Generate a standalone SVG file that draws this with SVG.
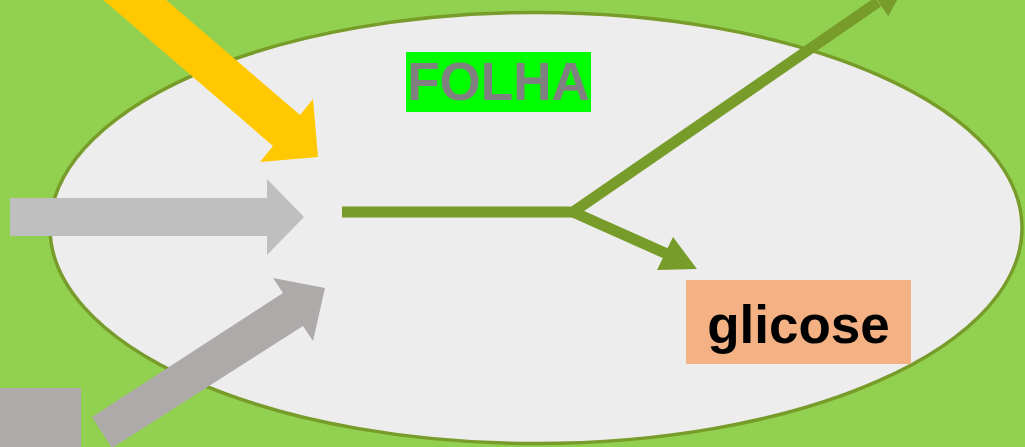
<svg xmlns="http://www.w3.org/2000/svg" width="1025" height="447" viewBox="0 0 1025 447">
<style>
.lbl{font-family:"Liberation Sans",Arial,sans-serif;font-weight:bold;text-anchor:middle}
.flow{fill:none;stroke:#789c2a;stroke-width:11}
.head{fill:#789c2a}
</style>
<rect id="background" x="0" y="0" width="1025" height="447" fill="#92d050"/>
<g id="leaf">
<ellipse cx="536" cy="228" rx="486" ry="215.5" fill="#ededed" stroke="#789c2a" stroke-width="3.5"/>
</g>
<g id="folha-label">
<rect x="406" y="52" width="185" height="60" fill="#00ff00"/>
<text class="lbl" x="498.5" y="100" font-size="53" fill="#808080">FOLHA</text>
</g>
<g id="glicose-label">
<rect x="686" y="280" width="225" height="84" fill="#f4b183"/>
<text class="lbl" x="798.5" y="343" font-size="53" fill="#000000">glicose</text>
</g>
<g id="gray-square">
<rect x="0" y="388" width="81" height="59" fill="#aeaaaa"/>
</g>
<g id="connectors">
<polygon id="sun-arrow" fill="#ffc800" points="76,-23.5 102.8,-54.5 300,115 313,99 318,157 260,162 273,146"/>
<polygon id="gray-arrow-h" fill="#bfbfbf" points="10,198 267,198 267,179 304,217 267,255 267,236 10,236"/>
<polygon id="gray-arrow-d" fill="#aeaaaa" points="92,417 283,293 273,278 325,288 313,341 303,326 112,448"/>
<path class="flow" d="M342,212 L573,212 L878,2"/>
<path class="flow" d="M573,212 L666,253.5"/>
<polygon class="head" points="888.2,16.2 907.5,-19 867.8,-14.2"/>
<polygon class="head" points="673,237 697,269 657,270"/>
</g>
</svg>
